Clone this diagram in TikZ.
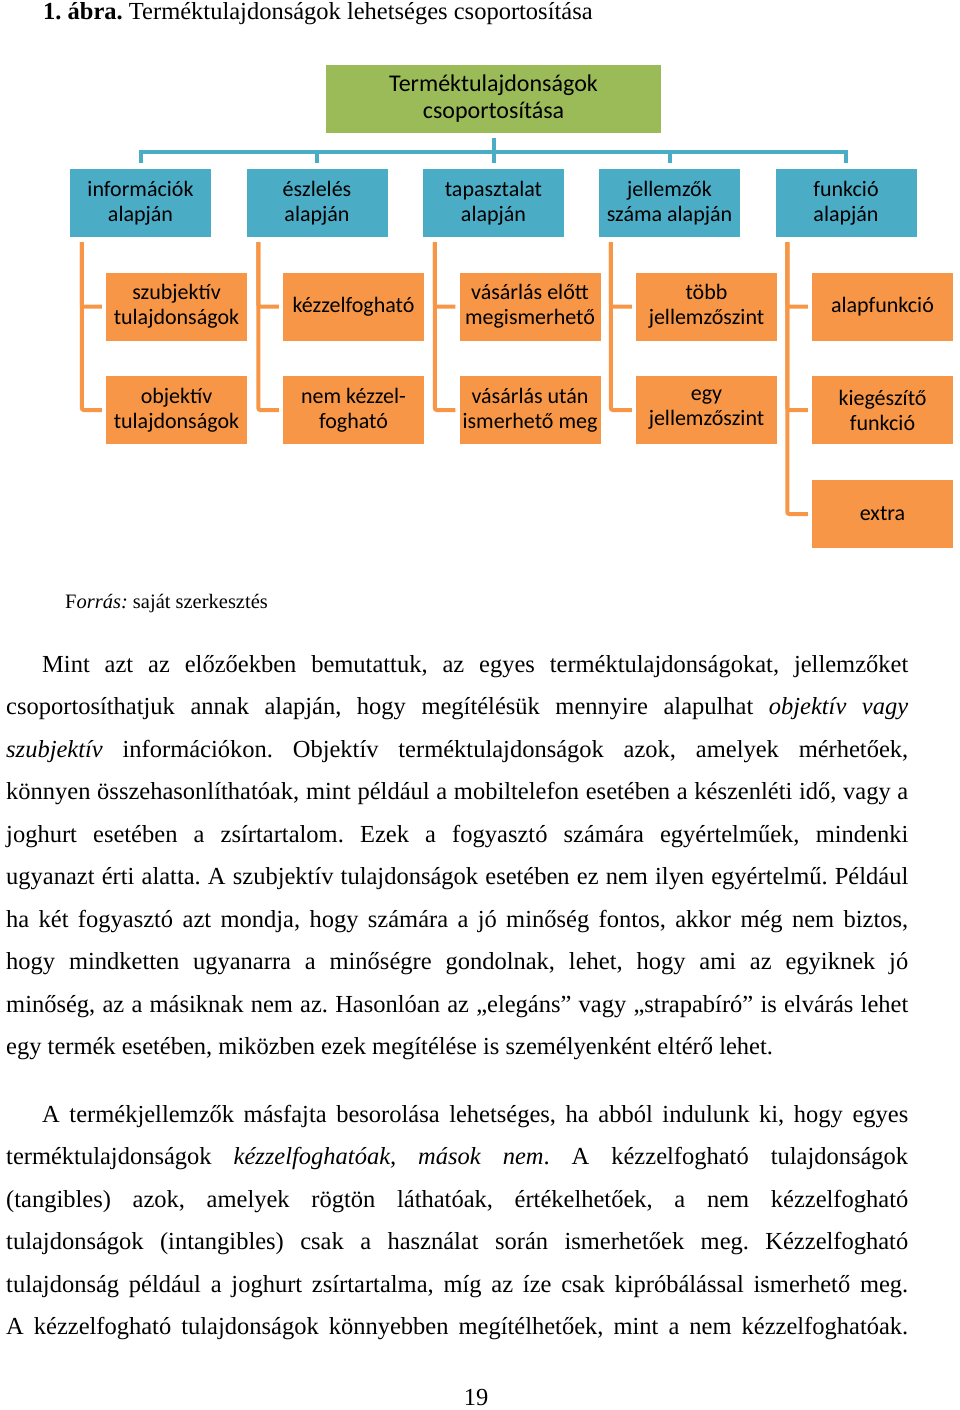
\documentclass[tikz,border=0pt]{standalone}
\usepackage{fontspec}
\setmainfont{Liberation Serif}
\newfontfamily\carlito{Carlito}
\definecolor{gfill}{HTML}{9BBB59}
\definecolor{bfill}{HTML}{4BACC6}
\definecolor{ofill}{HTML}{F79646}
\definecolor{oline}{HTML}{F79646}
\begin{document}
\frenchspacing
\begin{tikzpicture}[x=1pt,y=-1pt,
  gbox/.style={fill=gfill,minimum width=335pt,minimum height=68pt,inner sep=0pt,align=center,font=\carlito\fontsize{24}{27}\selectfont},
  bbox/.style={fill=bfill,minimum width=141pt,minimum height=68pt,inner sep=0pt,align=center,font=\carlito\fontsize{22}{25}\selectfont},
  obox/.style={fill=ofill,minimum width=141pt,minimum height=68pt,inner sep=0pt,align=center,font=\carlito\fontsize{22}{25}\selectfont},
  bl/.style={draw=bfill,line width=4pt},
  ol/.style={draw=oline,line width=4pt,rounded corners=2pt},
  txt/.style={anchor=base west,inner sep=0pt,font=\fontsize{24.5}{29}\selectfont},
  small/.style={anchor=base west,inner sep=0pt,font=\fontsize{20.5}{24}\selectfont}]
\useasboundingbox[fill=white] (0,0) rectangle (960,1410);

% title
\node[txt] (title) at (43,19.5) {\textbf{1. ábra.} Terméktulajdonságok lehetséges csoportosítása};

% diagram
\node[gbox] (g) at (493.5,99) {Terméktulajdonságok\\csoportosítása};
\node[bbox] (b1) at (140.5,203) {információk\\alapján};
\node[bbox] (b2) at (317,203) {észlelés\\alapján};
\node[bbox] (b3) at (493.5,203) {tapasztalat\\alapján};
\node[bbox] (b4) at (669.5,203) {jellemzők\\száma alapján};
\node[bbox] (b5) at (846,203) {funkció\\alapján};

\node[obox] (o11) at (176.5,306.5) {szubjektív\\tulajdonságok};
\node[obox] (o12) at (176.5,410) {objektív\\tulajdonságok};
\node[obox] (o21) at (353.5,306.5) {kézzelfogható};
\node[obox] (o22) at (353.5,410) {nem kézzel-\\fogható};
\node[obox] (o31) at (530,306.5) {vásárlás előtt\\megismerhető};
\node[obox] (o32) at (530,410) {vásárlás után\\ismerhető meg};
\node[obox] (o41) at (706.5,306.5) {több\\jellemzőszint};
\node[obox] (o42) at (706.5,410) {egy\\jellemzőszint};
\node[obox] (o51) at (882.5,306.5) {alapfunkció};
\node[obox] (o52) at (882.5,410) {kiegészítő\\funkció};
\node[obox] (o53) at (882.5,514) {extra};

\coordinate (bar) at (493.5,152);
\draw[bl] ([yshift=-5pt]g.south) -- ([yshift=6pt]b3.north);
\draw[bl] ([yshift=6pt]b1.north) |- (bar) -| ([yshift=6pt]b5.north);
\draw[bl] ([yshift=6pt]b2.north) -- (b2.north |- bar);
\draw[bl] ([yshift=6pt]b4.north) -- (b4.north |- bar);

\foreach \i/\last in {1/2,2/2,3/2,4/2,5/3}{
  \foreach \j in {1,...,\last}{
    \draw[ol] ([xshift=12pt,yshift=-5pt]b\i.south west) |- ([xshift=-4pt]o\i\j.west);
  }
}

% source
\node[small] (src) at (65,608) {F\textit{orrás:} saját szerkesztés};

% paragraph 1
\node[txt] (p1) at (42,672) {\makebox[866pt][s]{Mint azt az előzőekben bemutattuk, az egyes terméktulajdonságokat, jellemzőket}};
\node[txt] (p2) at (6,714.5) {\makebox[902pt][s]{csoportosíthatjuk annak alapján, hogy megítélésük mennyire alapulhat \textit{objektív vagy}}};
\node[txt] (p3) at (6,757) {\makebox[902pt][s]{\textit{szubjektív} információkon. Objektív terméktulajdonságok azok, amelyek mérhetőek,}};
\node[txt] (p4) at (6,799.5) {\makebox[902pt][s]{könnyen összehasonlíthatóak, mint például a mobiltelefon esetében a készenléti idő, vagy a}};
\node[txt] (p5) at (6,842) {\makebox[902pt][s]{joghurt esetében a zsírtartalom. Ezek a fogyasztó számára egyértelműek, mindenki}};
\node[txt] (p6) at (6,884.5) {\makebox[902pt][s]{ugyanazt érti alatta. A szubjektív tulajdonságok esetében ez nem ilyen egyértelmű. Például}};
\node[txt] (p7) at (6,927) {\makebox[902pt][s]{ha két fogyasztó azt mondja, hogy számára a jó minőség fontos, akkor még nem biztos,}};
\node[txt] (p8) at (6,969.5) {\makebox[902pt][s]{hogy mindketten ugyanarra a minőségre gondolnak, lehet, hogy ami az egyiknek jó}};
\node[txt] (p9) at (6,1012) {\makebox[902pt][s]{minőség, az a másiknak nem az. Hasonlóan az „elegáns” vagy „strapabíró” is elvárás lehet}};
\node[txt] (p10) at (6,1054.5) {egy termék esetében, miközben ezek megítélése is személyenként eltérő lehet.};

% paragraph 2
\node[txt] (q1) at (42,1122) {\makebox[866pt][s]{A termékjellemzők másfajta besorolása lehetséges, ha abból indulunk ki, hogy egyes}};
\node[txt] (q2) at (6,1164.5) {\makebox[902pt][s]{terméktulajdonságok \textit{kézzelfoghatóak, mások nem}. A kézzelfogható tulajdonságok}};
\node[txt] (q3) at (6,1207) {\makebox[902pt][s]{(tangibles) azok, amelyek rögtön láthatóak, értékelhetőek, a nem kézzelfogható}};
\node[txt] (q4) at (6,1249.5) {\makebox[902pt][s]{tulajdonságok (intangibles) csak a használat során ismerhetőek meg. Kézzelfogható}};
\node[txt] (q5) at (6,1292) {\makebox[902pt][s]{tulajdonság például a joghurt zsírtartalma, míg az íze csak kipróbálással ismerhető meg.}};
\node[txt] (q6) at (6,1334.5) {\makebox[902pt][s]{A kézzelfogható tulajdonságok könnyebben megítélhetőek, mint a nem kézzelfoghatóak.}};

% page number
\node[anchor=base,inner sep=0pt,font=\fontsize{24.5}{29}\selectfont] (pg) at (476,1405) {19};
\end{tikzpicture}
\end{document}
